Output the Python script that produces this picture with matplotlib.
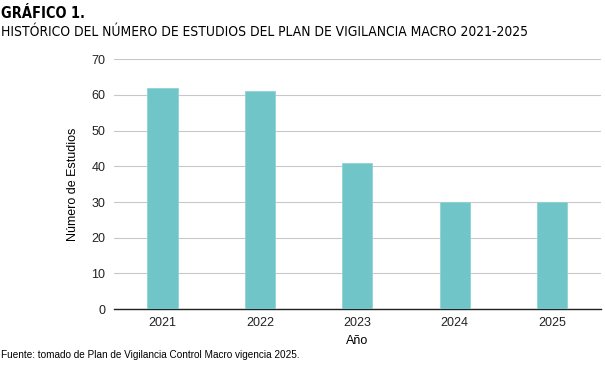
import os
import matplotlib
matplotlib.use('Agg')
from matplotlib import pyplot as plt
from matplotlib.font_manager import FontProperties

# ---------- Data
years = ['2021', '2022', '2023', '2024', '2025']
estudios = [62, 61, 41, 30, 30]

plt.rcParams['font.family'] = ['Liberation Sans', 'DejaVu Sans']

# ---------- Condensed faces for the titles
ddir = '/usr/share/fonts/truetype/dejavu/'
if os.path.exists(ddir + 'DejaVuSansCondensed.ttf'):
    fp_reg = FontProperties(fname=ddir + 'DejaVuSansCondensed.ttf')
    fp_bold = FontProperties(fname=ddir + 'DejaVuSansCondensed-Bold.ttf')
else:
    fp_reg = FontProperties(family='DejaVu Sans', stretch='condensed')
    fp_bold = FontProperties(family='DejaVu Sans', stretch='condensed', weight='bold')

# ---------- Figure
fig = plt.figure(figsize=(6.05, 3.65), dpi=100)
ax = fig.add_axes([0.188, 0.153, 0.805, 0.685])

ax.bar(years, estudios, width=0.31, color='#6fc5c7', edgecolor='#8fd3d5', linewidth=0.6, zorder=3)

ax.set_ylim(0, 70)
ax.set_xlim(-0.5, 4.5)
ax.set_yticks(range(0, 71, 10))
ax.yaxis.grid(True, color='#c8c8c8', linewidth=0.8, zorder=0)
for s in ['top', 'right', 'left']:
    ax.spines[s].set_visible(False)
ax.spines['bottom'].set_color('#222222')
ax.spines['bottom'].set_linewidth(1.0)
ax.tick_params(axis='both', length=0, labelsize=9, colors='#222222', pad=6)
ax.set_xlabel('Año', fontsize=9, labelpad=4)
ax.set_ylabel('Número de Estudios', fontsize=9, labelpad=9)

# ---------- Titles
t1 = fig.text(0.002, 0.963, 'GRÁFICO 1.', fontproperties=fp_bold, fontsize=12, va='center')
t2 = fig.text(0.002, 0.912, 'HISTÓRICO DEL NÚMERO DE ESTUDIOS DEL PLAN DE VIGILANCIA MACRO 2021-2025',
              fontproperties=fp_reg, fontsize=12, va='center')
fig.text(0.002, 0.018, 'Fuente: tomado de Plan de Vigilancia Control Macro vigencia 2025.', fontsize=7.2)

# fit titles to the width they take in the reference
r = fig.canvas.get_renderer()
t2.set_fontsize(12 * 527 / t2.get_window_extent(r).width)
t1.set_fontsize(12 * 84 / t1.get_window_extent(r).width)

fig.savefig('out.png', dpi=100)
